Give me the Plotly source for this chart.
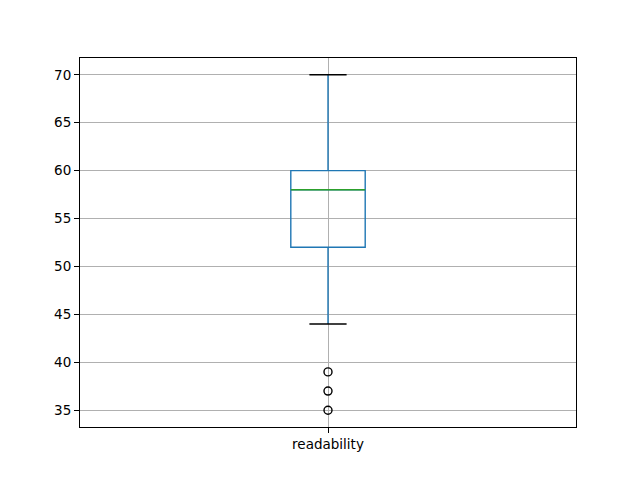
import plotly.graph_objects as go

# Data
categories = ["readability"]
q1 = [52]
median = [58]
q3 = [60]
lower_whisker = [44]
upper_whisker = [70]
outliers = [39, 37, 35]

pos = 1
box_width = 0.15
cap_half = box_width / 4

fig = go.Figure()
fig.add_trace(go.Box(
    x=[pos], q1=q1, median=median, q3=q3,
    lowerfence=lower_whisker, upperfence=upper_whisker,
    width=box_width, whiskerwidth=0, boxpoints=False,
    fillcolor="rgba(0,0,0,0)", line=dict(color="#1f77b4", width=1.4),
    showlegend=False, hoverinfo="skip",
))
# median line
fig.add_trace(go.Scatter(
    x=[pos - box_width / 2, pos + box_width / 2], y=[median[0], median[0]],
    mode="lines", line=dict(color="#2ca02c", width=1.4), showlegend=False,
))
# caps
for v in (upper_whisker[0], lower_whisker[0]):
    fig.add_trace(go.Scatter(
        x=[pos - cap_half, pos + cap_half], y=[v, v],
        mode="lines", line=dict(color="black", width=1.4), showlegend=False,
    ))
# outliers
fig.add_trace(go.Scatter(
    x=[pos] * len(outliers), y=outliers, mode="markers",
    marker=dict(symbol="circle-open", color="black", size=8, line=dict(width=1.4)),
    showlegend=False,
))

axis_common = dict(
    showline=True, mirror=True, linecolor="black", linewidth=1,
    ticks="outside", ticklen=5, tickcolor="black", tickwidth=1,
    showgrid=True, gridcolor="#b0b0b0", gridwidth=1, zeroline=False,
    tickfont=dict(family="DejaVu Sans", size=13.5, color="black"),
)
fig.update_xaxes(range=[0.5, 1.5], tickvals=[pos], ticktext=categories, **axis_common)
fig.update_yaxes(range=[33.25, 71.75], tick0=35, dtick=5, **axis_common)
fig.update_layout(
    width=632, height=472,
    margin=dict(l=72, r=64, t=50, b=53),
    plot_bgcolor="white", paper_bgcolor="white",
    font=dict(family="DejaVu Sans"),
)
fig.write_html("out.html")
